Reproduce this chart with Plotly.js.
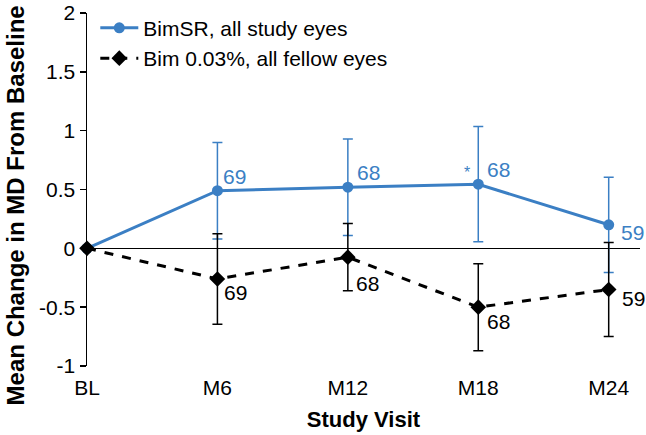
<!DOCTYPE html>
<html><head><meta charset="utf-8">
<script src="https://cdn.plot.ly/plotly-3.0.1.min.js"></script>
<style>html,body{margin:0;padding:0;background:#fff}#c{width:646px;height:435px}</style>
</head><body><div id="c"></div>
<script>
const visits = ["BL","M6","M12","M18","M24"];
const bimsrMean = [0, 0.49, 0.52, 0.545, 0.20];
const bimsrErr  = [0, 0.41, 0.41, 0.49, 0.405];
const bimsrN    = ["", "69", "68", "68", "59"];
const bimMean   = [0, -0.26, -0.075, -0.50, -0.35];
const bimErr    = [0, 0.385, 0.285, 0.37, 0.40];
const bimN      = ["", "69", "68", "68", "59"];
const yTickVals = [-1, -0.5, 0, 0.5, 1, 1.5, 2];
const yTickText = ["-1", "-0.5", "0", "0.5", "1", "1.5", "2"];
const yTitle = "Mean Change in MD From Baseline";
const xTitle = "Study Visit";
const blue = "#3b7fc4";
const F = "Liberation Sans, Arial, Helvetica, sans-serif";

const traces = [
  {x: visits, y: bimsrMean, name: "BimSR, all study eyes", type: "scatter", mode: "lines+markers",
   line: {color: blue, width: 3}, marker: {symbol: "circle", size: 11, color: blue},
   error_y: {type: "data", array: bimsrErr, visible: true, color: blue, thickness: 1.5, width: 5},
   cliponaxis: false},
  {x: visits, y: bimMean, name: "Bim 0.03%, all fellow eyes", type: "scatter", mode: "lines+markers",
   line: {color: "#000", width: 3, dash: "dash"}, marker: {symbol: "diamond", size: 12, color: "#000"},
   error_y: {type: "data", array: bimErr, visible: true, color: "#000", thickness: 1.5, width: 5},
   cliponaxis: false}
];

const blueShift = [null, [4, 14], [7, 15], [7, 15], [10, -8]];
const blackShift = [null, [5, -14], [6, -26], [7, -14], [11, -9]];
const ann = [];
visits.forEach((v, i) => {
  if (bimsrN[i]) ann.push({x: v, y: bimsrMean[i], text: bimsrN[i], showarrow: false, xanchor: "left", yanchor: "middle",
    xshift: blueShift[i][0], yshift: blueShift[i][1], font: {family: F, size: 21, color: blue}});
  if (bimN[i]) ann.push({x: v, y: bimMean[i], text: bimN[i], showarrow: false, xanchor: "left", yanchor: "middle",
    xshift: blackShift[i][0], yshift: blackShift[i][1], font: {family: F, size: 21, color: "#000"}});
});
ann.push({x: visits[3], y: bimsrMean[3], text: "*", showarrow: false, xanchor: "center", yanchor: "middle",
  xshift: -11, yshift: 12, font: {family: F, size: 16, color: blue}});
ann.push({xref: "paper", yref: "paper", x: 0, y: 0.455, xshift: -72, text: yTitle, textangle: -90,
  showarrow: false, xanchor: "center", yanchor: "middle", font: {family: F, size: 24, weight: "bold", color: "#000"}});

const layout = {
  width: 646, height: 435,
  margin: {l: 87, r: 6, t: 13, b: 69},
  paper_bgcolor: "#fff", plot_bgcolor: "#fff",
  font: {family: F, size: 21, color: "#000"},
  showlegend: true,
  legend: {x: 0.015, y: 1.015, xanchor: "left", yanchor: "top", bgcolor: "rgba(0,0,0,0)",
    font: {family: F, size: 21, color: "#000"}, tracegroupgap: 0, itemwidth: 38},
  xaxis: {type: "category", range: [0, 4.24], showgrid: false, zeroline: false, showline: false,
    ticks: "", tickfont: {family: F, size: 21}, ticklabelstandoff: 7,
    title: {text: xTitle, font: {family: F, size: 22, weight: "bold"}, standoff: 13}},
  yaxis: {range: [-1, 2], tickvals: yTickVals, ticktext: yTickText, showgrid: false,
    zeroline: true, zerolinecolor: "#000", zerolinewidth: 1.5,
    showline: true, linecolor: "#000", linewidth: 1.5, ticks: "outside", ticklen: 6, tickwidth: 1.5, tickcolor: "#000",
    tickfont: {family: F, size: 21}},
  annotations: ann
};
Plotly.newPlot("c", traces, layout, {displayModeBar: false, staticPlot: true});
</script></body></html>
